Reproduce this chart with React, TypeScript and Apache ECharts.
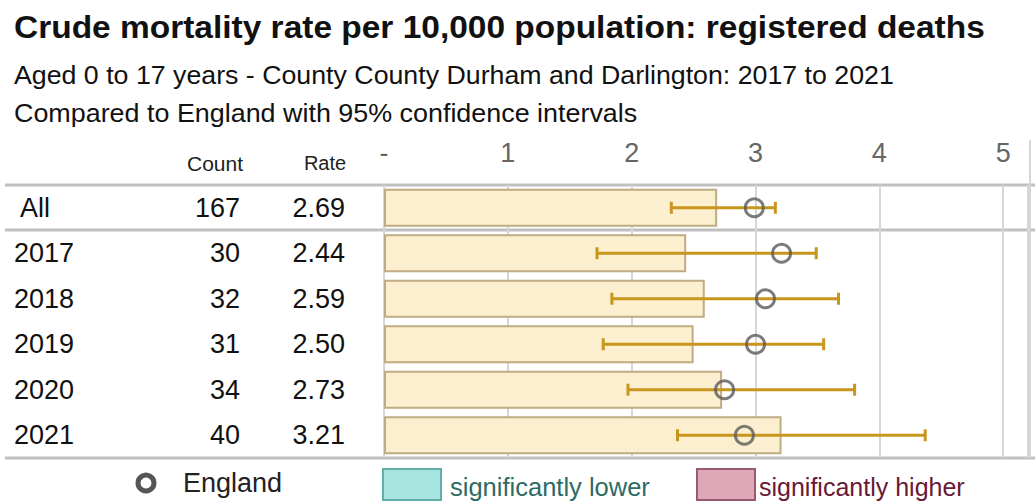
import React, { useEffect, useRef } from "react";
import * as echarts from "echarts";

const categories = ["All", "2017", "2018", "2019", "2020", "2021"];
const counts = [167, 30, 32, 31, 34, 40];
const rates = [2.69, 2.44, 2.59, 2.5, 2.73, 3.21];
const lowerCI = [2.32, 1.72, 1.84, 1.77, 1.97, 2.37];
const upperCI = [3.16, 3.49, 3.67, 3.55, 3.8, 4.37];
const englandRates = [2.99, 3.21, 3.08, 3.0, 2.75, 2.91];
const xTicks = [0, 1, 2, 3, 4, 5];

const FONT = "'Liberation Sans', Arial, sans-serif";

export default function App() {
  const ref = useRef<HTMLDivElement>(null);
  useEffect(() => {
    if (!ref.current) return;
    const chart = echarts.init(ref.current, null, { renderer: "svg" });
    const option: any = {
      animation: false,
      textStyle: { fontFamily: FONT },
      grid: { left: 384, right: 7, top: 185, bottom: 44 },
      xAxis: {
        type: "value",
        position: "top",
        min: 0,
        max: 5.2,
        interval: 1,
        axisLine: { show: false },
        axisTick: { show: false },
        splitLine: { show: true, lineStyle: { color: "#d6d6d6", width: 2 } },
        axisLabel: {
          fontSize: 27,
          color: "#666",
          margin: 19,
          fontFamily: FONT,
          customValues: xTicks,
          formatter: (v: number) => (v === 0 ? "-" : String(v)),
        },
      },
      yAxis: {
        type: "category",
        inverse: true,
        data: categories,
        axisLine: { show: false },
        axisTick: { show: false },
        axisLabel: {
          margin: 39,
          fontFamily: FONT,
          formatter: (v: string, i: number) =>
            `{a|${i === 0 ? " " + v : v}}{b|${counts[i]}}{c|${rates[i].toFixed(2)}}`,
          rich: {
            a: { width: 140, align: "left", fontSize: 27, color: "#111", fontFamily: FONT },
            b: { width: 86, align: "right", fontSize: 27, color: "#111", fontFamily: FONT },
            c: { width: 105, align: "right", fontSize: 27, color: "#111", fontFamily: FONT },
          },
        },
      },
      series: [
        {
          type: "bar",
          data: rates,
          barWidth: 38,
          itemStyle: { color: "#fcefcf", borderColor: "#c0ac84", borderWidth: 2 },
          z: 2,
        },
        {
          type: "custom",
          z: 3,
          data: categories.map((_, i) => [lowerCI[i], upperCI[i], i]),
          renderItem: (params: any, api: any) => {
            const lo = api.coord([api.value(0), api.value(2)]);
            const hi = api.coord([api.value(1), api.value(2)]);
            const h = 6;
            const style = { stroke: "#c8961c", lineWidth: 3 };
            return {
              type: "group",
              children: [
                { type: "line", shape: { x1: lo[0], y1: lo[1], x2: hi[0], y2: hi[1] }, style },
                { type: "line", shape: { x1: lo[0], y1: lo[1] - h, x2: lo[0], y2: lo[1] + h }, style },
                { type: "line", shape: { x1: hi[0], y1: hi[1] - h, x2: hi[0], y2: hi[1] + h }, style },
              ],
            };
          },
        },
        {
          type: "scatter",
          z: 4,
          data: categories.map((_, i) => [englandRates[i], i]),
          symbol: "circle",
          symbolSize: 18,
          itemStyle: { color: "rgba(0,0,0,0)", borderColor: "#5a5a5a", borderWidth: 3 },
        },
      ],
      graphic: [
        { type: "text", x: 14, y: 27, scaleX: 1.08, style: { text: "Crude mortality rate per 10,000 population: registered deaths", font: `bold 31px ${FONT}`, fill: "#111", verticalAlign: "middle" } },
        { type: "text", x: 14, y: 75, scaleX: 1.07, style: { text: "Aged 0 to 17 years - County County Durham and Darlington: 2017 to 2021", font: `25px ${FONT}`, fill: "#111", verticalAlign: "middle" } },
        { type: "text", x: 14, y: 113, scaleX: 1.076, style: { text: "Compared to England with 95% confidence intervals", font: `25px ${FONT}`, fill: "#111", verticalAlign: "middle" } },
        { type: "text", x: 215, y: 163, style: { text: "Count", font: `21px ${FONT}`, fill: "#222", align: "center", verticalAlign: "middle" } },
        { type: "text", x: 325, y: 163, style: { text: "Rate", font: `20px ${FONT}`, fill: "#222", align: "center", verticalAlign: "middle" } },
        { type: "line", shape: { x1: 5, y1: 185, x2: 1035, y2: 185 }, style: { stroke: "#c0c0c0", lineWidth: 3 } },
        { type: "line", shape: { x1: 5, y1: 230, x2: 1035, y2: 230 }, style: { stroke: "#c0c0c0", lineWidth: 3 } },
        { type: "line", shape: { x1: 5, y1: 458, x2: 1035, y2: 458 }, style: { stroke: "#c0c0c0", lineWidth: 3 } },
        { type: "line", shape: { x1: 1030, y1: 140, x2: 1030, y2: 458 }, style: { stroke: "#d6d6d6", lineWidth: 2 } },
        { type: "circle", shape: { cx: 146, cy: 483, r: 8 }, style: { fill: "none", stroke: "#555", lineWidth: 5 } },
        { type: "text", x: 183, y: 483, style: { text: "England", font: `27px ${FONT}`, fill: "#222", verticalAlign: "middle" } },
        { type: "rect", shape: { x: 383, y: 469, width: 58, height: 31 }, style: { fill: "#a8e4e0", stroke: "#5fb0a8", lineWidth: 2 } },
        { type: "text", x: 450, y: 487, style: { text: "significantly lower", font: `25.5px ${FONT}`, fill: "#2d6b66", verticalAlign: "middle" } },
        { type: "rect", shape: { x: 697, y: 469, width: 58, height: 31 }, style: { fill: "#dfa8b8", stroke: "#9a5a6e", lineWidth: 2 } },
        { type: "text", x: 759, y: 487, style: { text: "significantly higher", font: `25px ${FONT}`, fill: "#6a1838", verticalAlign: "middle" } },
      ],
    };
    chart.setOption(option);
    return () => chart.dispose();
  }, []);
  return (
    <div
      ref={ref}
      style={{ position: "fixed", left: 0, top: 0, width: 1035, height: 502, background: "#fff" }}
    />
  );
}
